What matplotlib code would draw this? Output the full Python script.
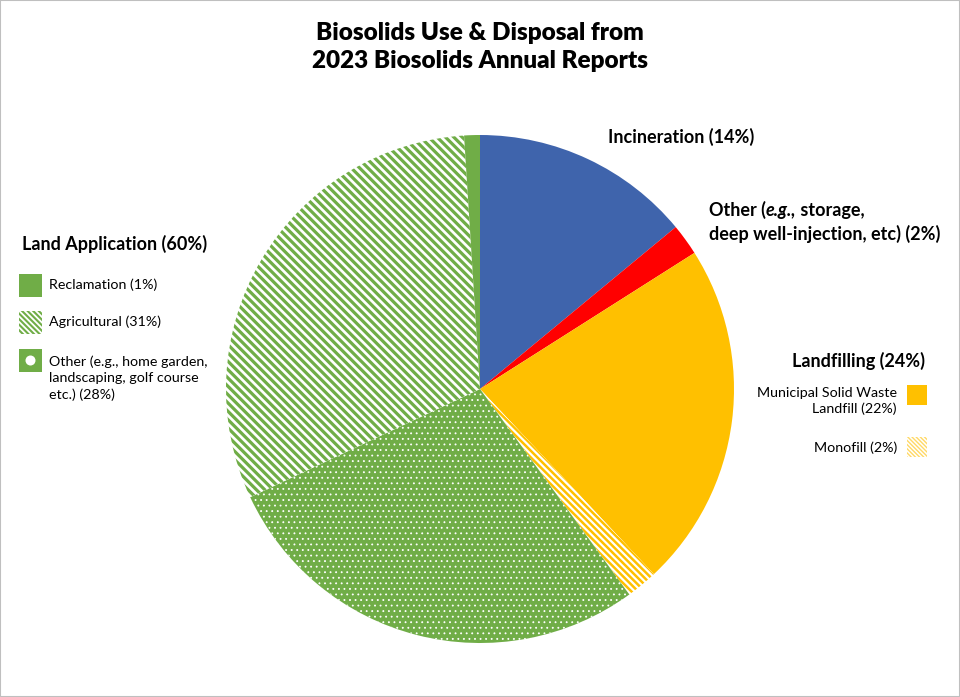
import matplotlib
matplotlib.use("Agg")
import matplotlib.pyplot as plt
from matplotlib.patches import Rectangle, Circle

plt.rcParams['font.family'] = ['Lato', 'DejaVu Sans']

# slices, clockwise from 12 o'clock
labels = ["Incineration", "Other", "Municipal Solid Waste Landfill", "Monofill",
          "Other land application", "Agricultural", "Reclamation"]
values = [14, 2, 22, 2, 28, 31, 1]

BLUE = "#3F64AC"
RED = "#FF0000"
GOLD = "#FFC000"
GREEN = "#70AD47"

W, H = 960, 697
fig = plt.figure(figsize=(W / 100, H / 100), dpi=100)

# pie axes: centre (480, 389) px, radius 254 px
cx, cy, r = 480, 389, 254
ax = fig.add_axes([(cx - r) / W, (H - cy - r) / H, 2 * r / W, 2 * r / H])
wedges, _ = ax.pie(values, startangle=90, counterclock=False, radius=1,
                   wedgeprops=dict(linewidth=0))
ax.set_xlim(-1, 1)
ax.set_ylim(-1, 1)
ax.set_aspect("equal")
ax.axis("off")

# fill styles
styles = [
    dict(fc=BLUE, ec=BLUE, hatch=None, hlw=None),
    dict(fc=RED, ec=RED, hatch=None, hlw=None),
    dict(fc=GOLD, ec=GOLD, hatch=None, hlw=None),
    dict(fc="white", ec=GOLD, hatch="\\" * 5, hlw=1.8),
    dict(fc=GREEN, ec="white", hatch="...", hlw=0.6),
    dict(fc="white", ec=GREEN, hatch="\\" * 4, hlw=2.3),
    dict(fc=GREEN, ec=GREEN, hatch=None, hlw=None),
]


def apply_style(p, s):
    p.set_facecolor(s["fc"])
    p.set_edgecolor(s["ec"])
    p.set_linewidth(0)
    if s["hatch"]:
        p.set_hatch(s["hatch"])
        if hasattr(p, "set_hatch_linewidth"):
            p.set_hatch_linewidth(s["hlw"])


for w, s in zip(wedges, styles):
    apply_style(w, s)

# overlay axes in pixel coordinates for text and legend keys
ov = fig.add_axes([0, 0, 1, 1], zorder=5)
ov.set_xlim(0, W)
ov.set_ylim(H, 0)
ov.axis("off")

ov.text(480, 47, "Biosolids Use & Disposal from\n2023 Biosolids Annual Reports",
        ha="center", va="center", fontsize=17.5, fontweight="heavy",
        linespacing=1.35, color="black")

BIG = 13.0
SMALL = 10.3

ov.text(608, 137, "Incineration (14%)", ha="left", va="center",
        fontsize=BIG, fontweight="bold")

# Other label with italic e.g.
t1 = ov.text(709, 210, "Other (", ha="left", va="center", fontsize=BIG, fontweight="bold")
t2 = ov.annotate("e.g.,", xy=(1, 0), xycoords=t1, ha="left", va="bottom",
                 fontsize=BIG, fontweight="bold", fontstyle="italic")
ov.annotate(" storage,", xy=(1, 0), xycoords=t2, ha="left", va="bottom",
            fontsize=BIG, fontweight="bold")
ov.text(709, 234, "deep well-injection, etc) (2%)", ha="left", va="center",
        fontsize=BIG, fontweight="bold")

# landfilling group
ov.text(925, 361, "Landfilling (24%)", ha="right", va="center",
        fontsize=BIG, fontweight="bold")
ov.text(897, 401, "Municipal Solid Waste\nLandfill (22%)", ha="right", va="center",
        fontsize=SMALL, linespacing=1.4, multialignment="right")
ov.text(897, 448, "Monofill (2%)", ha="right", va="center", fontsize=SMALL)
k = Rectangle((907, 385), 20, 20)
apply_style(k, styles[2])
ov.add_patch(k)
k = Rectangle((907, 437), 20, 20)
apply_style(k, dict(fc="white", ec="#FFD966", hatch="\\" * 8, hlw=1.0))
ov.add_patch(k)

# land application group
ov.text(22, 244, "Land Application (60%)", ha="left", va="center",
        fontsize=BIG, fontweight="bold")
k = Rectangle((19, 274), 23, 23)
apply_style(k, styles[6])
ov.add_patch(k)
ov.text(49, 285, "Reclamation (1%)", ha="left", va="center", fontsize=SMALL)
k = Rectangle((19, 311), 23, 23)
apply_style(k, dict(fc="white", ec=GREEN, hatch="\\" * 6, hlw=1.5))
ov.add_patch(k)
ov.text(49, 322, "Agricultural (31%)", ha="left", va="center", fontsize=SMALL)
k = Rectangle((19, 349), 23, 23, fc=GREEN, lw=0)
ov.add_patch(k)
ov.add_patch(Circle((30.5, 360.5), 5, fc="white", lw=0))
ov.text(49, 378, "Other (e.g., home garden,\nlandscaping, golf course\netc.) (28%)",
        ha="left", va="center", fontsize=SMALL, linespacing=1.4)

# chart border
fig.patches.append(Rectangle((0, 0), 1, 1, transform=fig.transFigure,
                             fill=False, ec="#BFBFBF", lw=1.5))

fig.savefig("out.png", dpi=100, facecolor="white")
